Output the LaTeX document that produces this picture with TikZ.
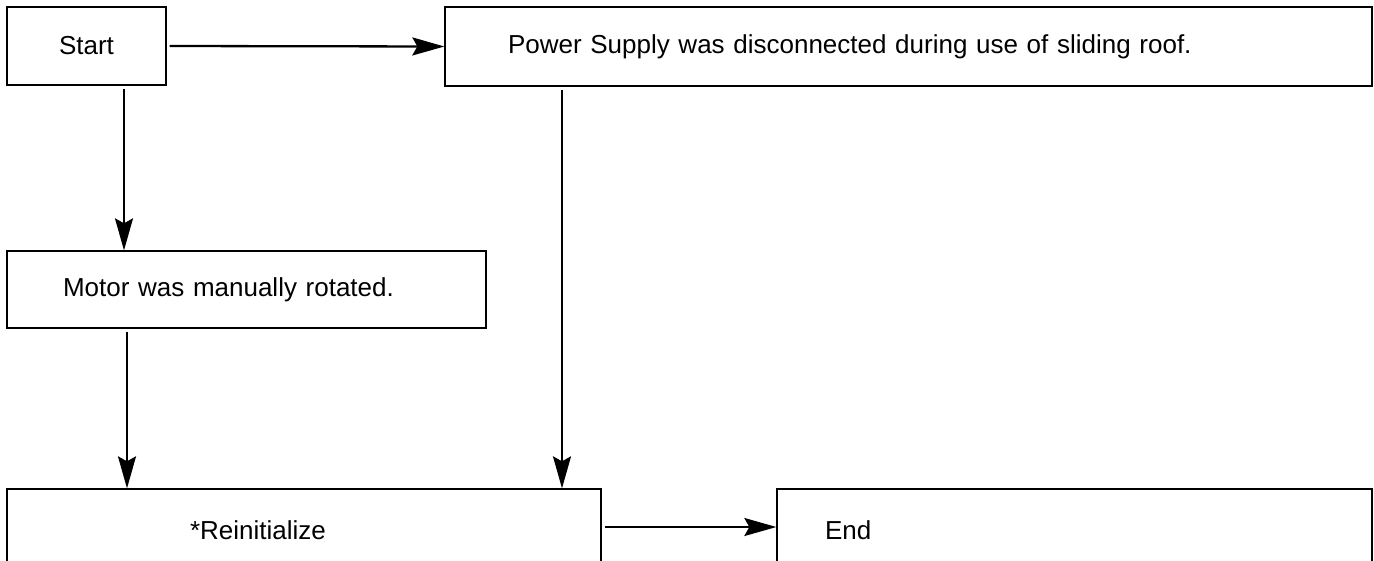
\documentclass[tikz,border=0pt]{standalone}
\usepackage{fontspec}
\setmainfont{Liberation Sans}
\usetikzlibrary{arrows.meta,calc}
\begin{document}
\begin{tikzpicture}[x=1pt,y=-1pt,
  box/.style={draw, line width=1.3pt, rectangle, inner sep=0pt, font=\fontsize{26}{30}\selectfont, align=left},
  conn/.style={line width=2.3pt, -{Stealth[length=32pt,width=18pt,inset=5pt]}, shorten <=3pt}]
\useasboundingbox (0,0) rectangle (1374,560);
\clip (0,0) rectangle (1374,560);
\node[box, minimum width=159pt, minimum height=78pt, align=center] (start) at (86.5,46) {Start};
\node[box, minimum width=927pt, minimum height=79pt, text width=801pt] (power) at (908.5,46.5) {Power Supply was disconnected during use of sliding roof.};
\node[box, minimum width=479pt, minimum height=77pt, text width=367pt] (motor) at (246.5,289.5) {Motor was manually rotated.};
\node[box, minimum width=594pt, minimum height=82pt, text width=228pt] (reinit) at (304,530) {*Reinitialize};
\node[box, minimum width=595pt, minimum height=82pt, text width=499pt] (end) at (1074.5,530) {End};
\draw[conn] (start.east) -- (power.west);
\draw[conn] ([xshift=37.5pt]start.south) -- ([xshift=37.5pt]start.south |- motor.north);
\draw[conn] ([xshift=-119.5pt]motor.south) -- ([xshift=-119.5pt]motor.south |- reinit.north);
\draw[conn] ([xshift=-346.5pt]power.south) -- ([xshift=-346.5pt]power.south |- reinit.north);
\draw[conn] ([yshift=3pt]reinit.east) -- ([yshift=3pt]end.west);
\end{tikzpicture}
\end{document}
